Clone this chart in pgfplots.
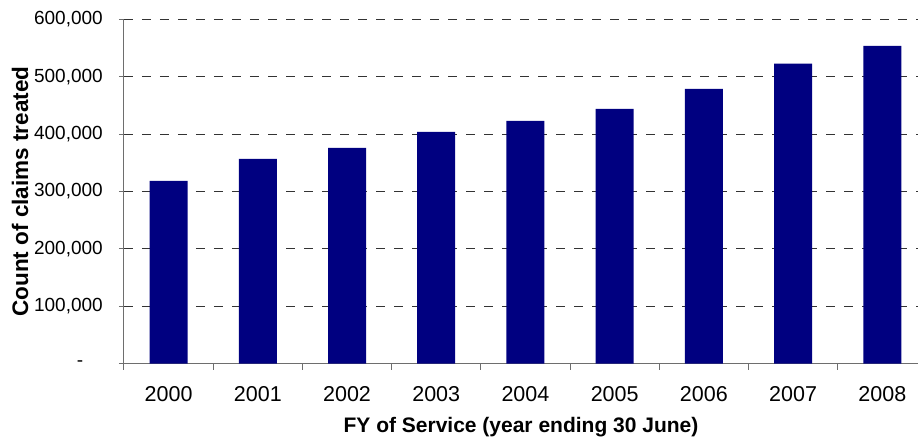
\documentclass[border=0pt]{standalone}
\usepackage{pgfplots}
\pgfplotsset{compat=1.18}
\usepackage{fontspec}
\setmainfont{Liberation Sans}
\definecolor{barnavy}{RGB}{0,0,128}
\definecolor{axisgray}{RGB}{110,110,110}

\begin{document}
\begin{tikzpicture}
\begin{axis}[
    scale only axis,
    width=794pt,
    height=344.4pt,
    at={(0,0)}, anchor=south west,
    ybar,
    bar width=38pt,
    xmin=-0.5, xmax=8.4,
    ymin=0, ymax=600000,
    axis lines*=left,
    axis line style={axisgray, line width=1pt},
    tick align=outside,
    major tick length=5pt,
    minor tick length=6pt,
    xtick={0,...,8},
    xticklabels={2000,2001,2002,2003,2004,2005,2006,2007,2008},
    minor xtick={-0.5,0.5,...,8.5},
    major x tick style={draw=none},
    minor x tick style={axisgray, line width=1pt},
    ytick={0,100000,...,600000},
    yticklabels={{\makebox[26pt][l]{-}},{100,000},{200,000},{300,000},{400,000},{500,000},{600,000}},
    scaled y ticks=false,
    y tick style={axisgray, line width=1pt},
    ymajorgrids,
    grid style={black!80, line width=0.9pt, dash pattern=on 9pt off 9pt},
    yticklabel style={font=\fontsize{19}{21}\selectfont, inner sep=0pt, anchor=east, xshift=-16pt},
    xticklabel style={font=\fontsize{21.5}{24}\selectfont, inner sep=0pt, anchor=center, yshift=-25pt},
    xlabel={FY of Service (year ending 30 June)},
    ylabel={Count of claims treated},
    xlabel style={font=\bfseries\fontsize{21}{24}\selectfont, at={(axis description cs:0.5,-0.183)}, anchor=center},
    ylabel style={font=\bfseries\fontsize{22.5}{25}\selectfont, at={(axis description cs:-0.131,0.5)}, anchor=center},
]
\addplot[draw=none, fill=barnavy] coordinates {
    (0,318400) (1,356700) (2,375800) (3,403700) (4,422900)
    (5,443800) (6,478600) (7,522700) (8,553600)};
\end{axis}
\pgfresetboundingbox
\path[use as bounding box] (-124pt,-76.3pt) rectangle (794pt,363.7pt);
\end{tikzpicture}
\end{document}
